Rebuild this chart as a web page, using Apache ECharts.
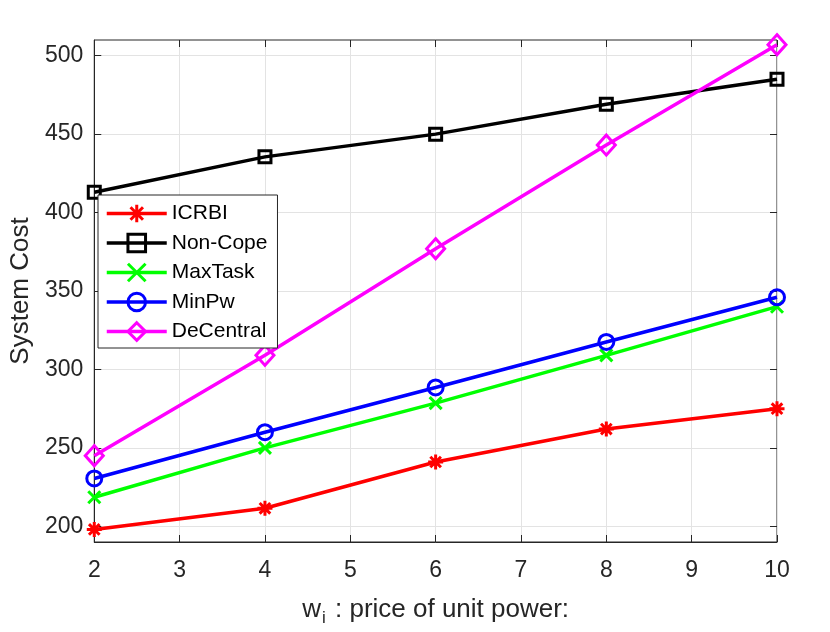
<!DOCTYPE html>
<html><head><meta charset="utf-8">
<script src="https://cdn.jsdelivr.net/npm/echarts@6/dist/echarts.min.js"></script>
<style>html,body{margin:0;padding:0;background:#fff}#c{width:830px;height:632px}</style>
</head><body><div id="c"></div>
<script>
const xValues = [2, 4, 6, 8, 10];
const icrbi = [198, 211.5, 241, 262, 275];
const nonCope = [413, 435.5, 450, 469, 485];
const maxTask = [218.5, 250, 278.5, 309, 340];
const minPw = [230.5, 260, 288.5, 317.5, 346];
const deCentral = [245, 309, 377, 443, 507];
const yTicks = [200, 250, 300, 350, 400, 450, 500];
const seriesNames = ['ICRBI', 'Non-Cope', 'MaxTask', 'MinPw', 'DeCentral'];

const FONT = "'Liberation Sans', Arial, Helvetica, sans-serif";
const AX = '#262626';
const asterisk = 'path://M0,-10L0,10M-10,0L10,0M-7.07,-7.07L7.07,7.07M-7.07,7.07L7.07,-7.07';
const cross = 'path://M-10,-10L10,10M-10,10L10,-10';

function mk(name, data, color, symbol, size) {
  return {
    name: name, type: 'line',
    data: xValues.map((x, i) => [x, data[i]]),
    symbol: symbol, symbolSize: size,
    color: color,
    lineStyle: {color: color, width: 3.5},
    itemStyle: {color: 'rgba(0,0,0,0)', borderColor: color, borderWidth: 3},
    emphasis: {disabled: true},
    z: 3
  };
}

const chart = echarts.init(document.getElementById('c'), null, {renderer: 'canvas'});
chart.setOption({
  animation: false,
  backgroundColor: '#fff',
  grid: {left: 94, right: 53, top: 40, bottom: 90, show: true, borderColor: AX, borderWidth: 1, backgroundColor: 'transparent'},
  legend: {
    orient: 'vertical', left: 98, top: 195,
    itemWidth: 60, itemHeight: 22, itemGap: 8.5,
    padding: [8, 10, 6, 7],
    backgroundColor: '#fff', borderColor: AX, borderWidth: 1,
    lineStyle: {width: 3.5},
    itemStyle: {borderWidth: 3},
    textStyle: {fontFamily: FONT, fontSize: 21, color: '#000'},
    data: seriesNames
  },
  xAxis: [{
    type: 'value', min: 2, max: 10, interval: 1,
    axisLine: {show: true, onZero: false, lineStyle: {color: AX, width: 1}},
    axisTick: {show: true, inside: true, length: 7, lineStyle: {color: AX}},
    axisLabel: {fontFamily: FONT, fontSize: 23, color: AX, margin: 17},
    splitLine: {show: true, lineStyle: {color: '#e3e3e3', width: 1}},
    name: '{a|w}{b|i}{a| : price of unit power:}',
    nameLocation: 'middle', nameGap: 50,
    nameTextStyle: {
      fontFamily: FONT, fontSize: 26, color: AX,
      rich: {
        a: {fontFamily: FONT, fontSize: 26, color: AX},
        b: {fontFamily: FONT, fontSize: 17, color: AX, padding: [18, 2, 0, 1]}
      }
    }
  }, {
    type: 'value', min: 2, max: 10, interval: 1, position: 'top',
    axisLine: {show: false},
    axisTick: {show: true, inside: true, length: 7, lineStyle: {color: AX}},
    axisLabel: {show: false}, splitLine: {show: false}
  }],
  yAxis: [{
    type: 'value', min: 190, max: 510,
    axisLine: {show: true, onZero: false, lineStyle: {color: AX, width: 1}},
    axisTick: {show: true, inside: true, length: 7, lineStyle: {color: AX}, customValues: yTicks},
    axisLabel: {fontFamily: FONT, fontSize: 23, color: AX, margin: 11, customValues: yTicks},
    splitLine: {show: true, lineStyle: {color: '#e3e3e3', width: 1}},
    name: 'System Cost', nameLocation: 'middle', nameGap: 58, nameRotate: 90,
    nameTextStyle: {fontFamily: FONT, fontSize: 26, color: AX}
  }, {
    type: 'value', min: 190, max: 510, position: 'right',
    axisLine: {show: false},
    axisTick: {show: true, inside: true, length: 7, lineStyle: {color: AX}, customValues: yTicks},
    axisLabel: {show: false, customValues: yTicks}, splitLine: {show: false}
  }],
  series: [
    mk(seriesNames[0], icrbi, '#ff0000', asterisk, 15),
    mk(seriesNames[1], nonCope, '#000000', 'rect', 12),
    mk(seriesNames[2], maxTask, '#00ff00', cross, 12),
    mk(seriesNames[3], minPw, '#0000ff', 'circle', 15),
    mk(seriesNames[4], deCentral, '#ff00ff', 'diamond', [18, 20])
  ]
});
</script></body></html>
